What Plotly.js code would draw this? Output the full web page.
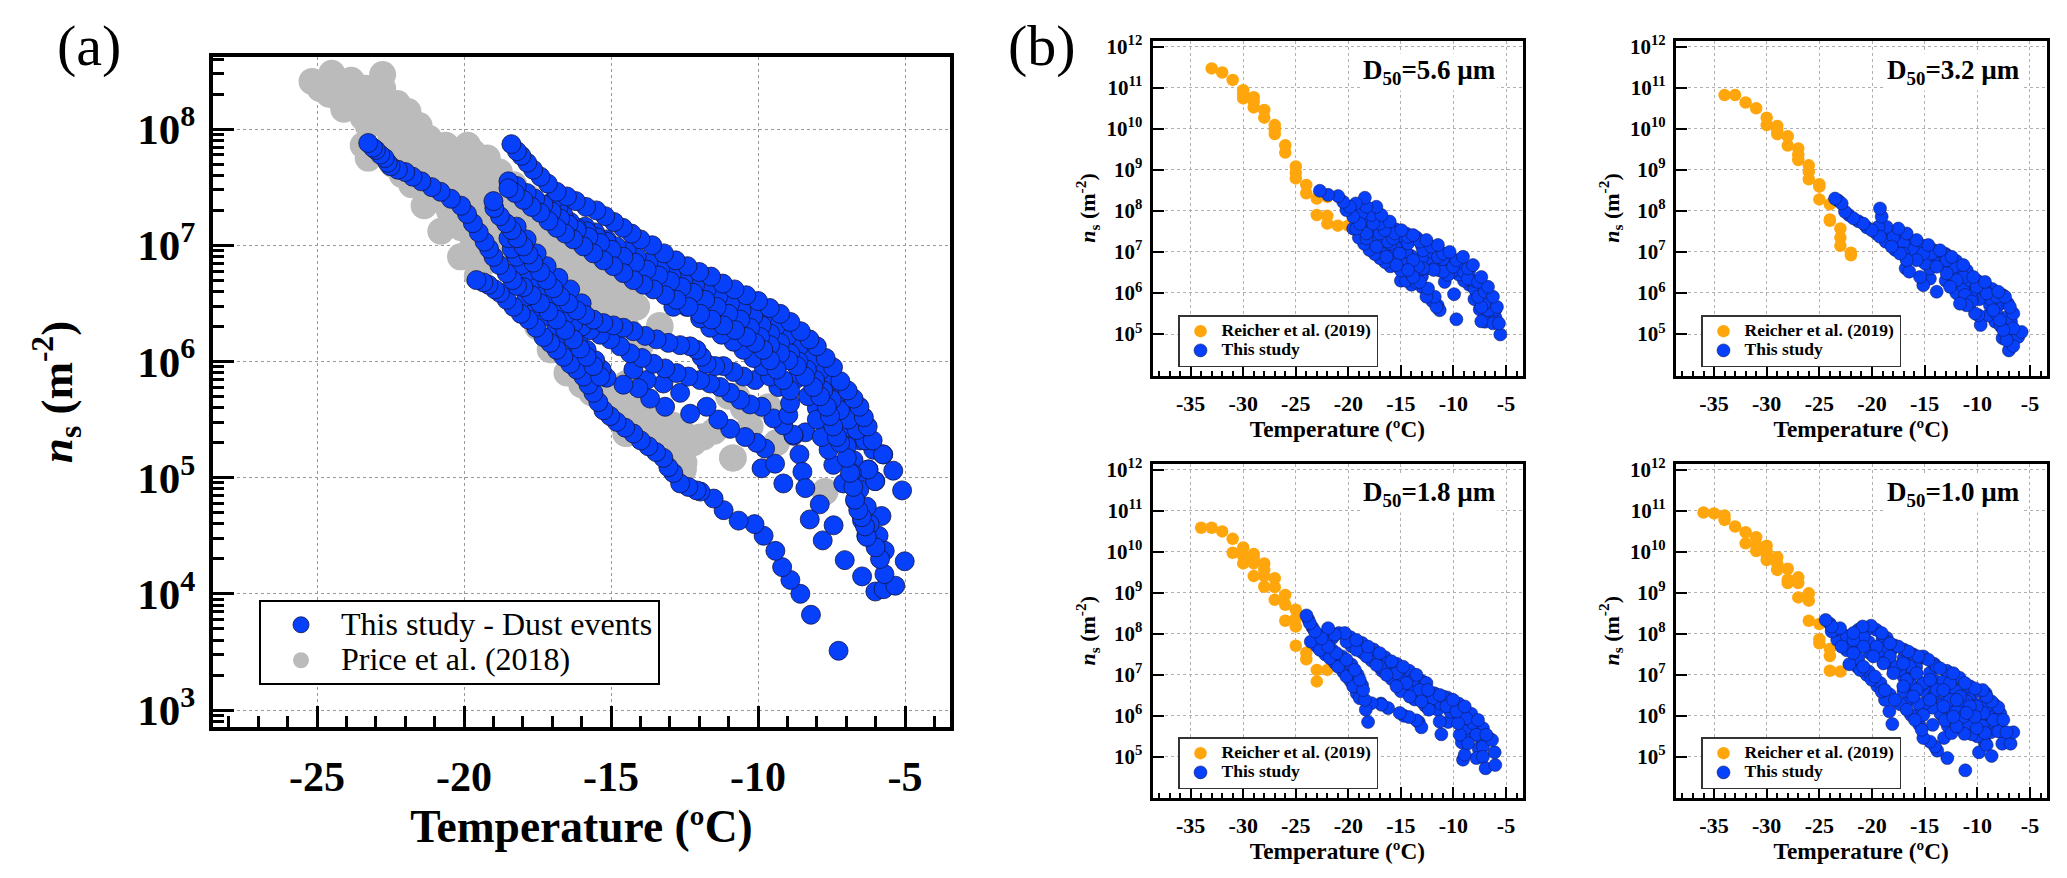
<!DOCTYPE html>
<html><head><meta charset="utf-8">
<script src="https://cdn.plot.ly/plotly-3.0.1.min.js"></script>
<style>html,body{margin:0;padding:0;background:#fff}</style>
</head><body><div id="chart" style="width:2067px;height:878px"></div>
<script>
// ---------- Panel (a) ----------
const aGreyT=[-25.17,-24.5,-23.84,-23.35,-22.77,-22.77,-22.27,-21.91,-21.53,-21.2,-20.62,-19.88,-19.21,-18.8,-18.31,-17.81,-17.15,-16.32,-15.33,-14.5,-14.17,-13.35,-24.59,-24.09,-23.43,-23.26,-23.43,-23.26,-22.6,-22.44,-22.11,-21.78,-21.36,-20.79,-20.12,-19.55,-22.6,-21.78,-20.95,-20.12,-19.3,-19.96,-19.3,-18.47,-17.64,-16.82,-15.99,-15.17,-16.98,-15.5,-14.5,-13.68,-12.52,-12.52,-11.86,-10.87,-17.07,-15.66,-14.47,-13.73,-12.54,-11.97,-12.54,-13.1,-13.79,-14.47,-10.84,-10.27,-9.65,-9.37,-7.72,-13.33,-14.13,-14.01,-10.73];
const aGreyLog=[8.41,8.48,8.42,8.35,8.47,8.35,8.22,8.15,8.03,7.92,7.86,7.86,7.75,7.63,7.52,7.41,7.23,7.05,6.79,6.58,6.47,6.31,8.3,8.17,8.1,8.03,7.86,7.75,7.81,7.7,7.61,7.52,7.34,7.12,6.9,6.74,8.03,7.88,7.66,7.48,7.59,7.74,7.3,7.08,7.23,6.94,6.76,6.58,6.11,5.73,5.38,5.38,5.13,5.35,5.35,5.17,6.1,5.73,5.38,5.41,5.07,5.35,5.38,5.44,5.64,5.81,5.17,5.44,5.61,5.3,4.88,6.3,6.47,6.13,5.7];
const aGreyBandT=[-24.9,-24.6,-24.2,-24.2,-23.9,-23.6,-23.6,-23.2,-22.9,-22.9,-22.5,-22.5,-22.1,-22.1,-21.7,-21.7,-21.3,-21.3,-20.9,-20.9,-20.5,-20.5,-20.5,-20.1,-20.1,-19.7,-19.7,-19.7,-19.7,-19.3,-19.3,-19.3,-18.9,-18.9,-18.9,-18.5,-18.5,-18.5,-18.1,-18.1,-17.7,-17.7,-17.3,-17.3,-16.9,-16.9,-16.5,-16.5,-16.1,-16.1,-15.7,-15.7,-15.3,-15.3,-14.9,-14.9,-14.5,-14.5,-17.5,-17,-16.5,-16,-15.5,-15,-14.5,-14,-13.5,-13,-12.5,-13.5,-12.9,-12.2,-11.5,-11,-10.5];
const aGreyBandLog=[8.35,8.38,8.4,8.25,8.3,8.3,8.18,8.27,8.25,8.1,8.15,7.95,8.05,7.9,7.98,7.75,7.85,7.6,7.8,7.45,7.75,7.55,7.3,7.72,7.15,7.8,7.55,7.3,7,7.45,7.1,6.85,7.6,7.3,7,7.45,7.2,6.9,7.35,7.05,7.3,7.05,7.2,6.95,7.1,6.85,7,6.75,6.9,6.65,6.82,6.6,6.7,6.5,6.6,6.4,6.5,6.3,6.3,6.1,5.9,5.8,5.8,5.7,5.6,5.5,5.4,5.3,5.25,5.55,5.45,5.3,5.4,5.7,5.6];
// blue curves, read as individual chains
const aCurve0T=[-23.26,-23.1,-23,-22.85,-22.7,-22.6,-22.5,-22.25,-22,-21.75,-21.45,-21.1,-20.8,-20.45,-20.1,-19.9,-19.7,-19.5,-19.3,-19.15,-19,-18.8,-18.55,-18.35,-18.2,-17.98,-17.7,-17.41,-17.13,-16.85,-16.56,-16.28,-16.05,-15.83,-15.6,-15.37];
const aCurve0Log=[7.88,7.84,7.82,7.78,7.75,7.71,7.68,7.65,7.63,7.59,7.55,7.5,7.46,7.4,7.34,7.27,7.19,7.11,7.03,6.97,6.9,6.83,6.76,6.7,6.65,6.64,6.57,6.5,6.43,6.36,6.27,6.19,6.11,6.04,5.96,5.87];
const aCurve1T=[-18.39,-18.2,-18.05,-17.85,-17.65,-17.4,-17.15,-16.85,-16.5,-16.2,-15.85,-15.5,-15.2,-14.9,-14.6,-14.3,-14,-13.6,-13.2,-12.8,-12.4,-12,-11.6,-11.2,-10.8,-10.4,-10,-9.6,-9.25,-8.9,-8.55,-8.25,-8,-7.7,-7.45,-7.2,-6.95,-6.75,-6.55,-6.4,-6.27,-6.1,-5.75,-5.4,-5.1];
const aCurve1Log=[7.87,7.81,7.77,7.71,7.65,7.59,7.53,7.46,7.42,7.38,7.33,7.3,7.25,7.2,7.15,7.1,7.05,7,6.93,6.87,6.82,6.77,6.73,6.67,6.62,6.57,6.52,6.46,6.41,6.34,6.26,6.19,6.13,6.03,5.95,5.83,5.75,5.68,5.61,5.52,5.44,5.32,5.2,5.06,4.89];
const aCurve2T=[-18.49,-18.27,-17.98,-17.7,-17.41,-17.13,-16.85,-16.56,-16.28,-15.94,-15.6,-15.26,-14.92,-14.58,-14.24,-13.9,-13.56,-13.16,-12.77,-12.37,-11.97,-11.58,-11.18,-10.78,-10.39,-10.1,-9.82,-9.59,-9.37,-9.14,-8.91,-8.91,-8.97];
const aCurve2Log=[7.49,7.45,7.39,7.33,7.28,7.21,7.15,7.1,7.05,6.99,6.93,6.87,6.82,6.76,6.7,6.66,6.62,6.57,6.53,6.47,6.41,6.36,6.31,6.27,6.21,6.16,6.1,6.01,5.93,5.84,5.75,5.64,5.54];
const aCurve3T=[-18.49,-18.21,-17.87,-17.58,-17.3,-17.02,-16.73,-16.45,-16.17,-15.77,-15.37,-14.98,-14.58,-14.18,-13.79,-13.39,-12.99,-12.6,-12.2,-11.8,-11.41,-11.01,-10.61,-10.27,-9.93,-9.59,-9.25,-8.97,-8.68,-8.4,-8.12,-7.89,-7.66,-7.55,-7.44,-7.32,-7.21,-6.98,-6.87,-6.76,-6.7,-6.59,-6.47,-6.36,-6.3];
const aCurve3Log=[7.55,7.51,7.45,7.4,7.35,7.29,7.23,7.18,7.13,7.07,7.02,6.96,6.9,6.85,6.79,6.74,6.69,6.64,6.59,6.53,6.47,6.41,6.36,6.29,6.21,6.14,6.07,6.01,5.96,5.87,5.78,5.7,5.61,5.53,5.44,5.35,5.3,5.17,5.04,4.92,4.81,4.72,4.66,4.58,4.49];
const aCurve4T=[-16.98,-16.79,-16.62,-16.39,-16.17,-15.83,-15.49,-15.15,-14.81,-14.47,-14.13,-13.73,-13.33,-12.94,-12.54,-12.14,-11.75,-11.35,-10.95,-10.56,-10.16,-9.88,-9.59,-9.25,-8.91,-8.63,-8.34,-8.06,-7.78,-7.49,-7.21,-6.93,-6.64,-6.36,-6.08,-5.74];
const aCurve4Log=[7.38,7.32,7.26,7.2,7.15,7.12,7.07,7.03,6.99,6.95,6.9,6.85,6.79,6.74,6.7,6.66,6.62,6.56,6.5,6.44,6.39,6.31,6.24,6.16,6.07,6,5.93,5.84,5.75,5.67,5.58,5.5,5.41,5.32,5.24,5.2];
const aCurve5T=[-15.88,-15.54,-15.15,-14.81,-14.47,-14.13,-13.67,-13.28,-12.88,-12.43,-11.97,-11.63,-11.24,-10.84,-10.5,-10.16,-9.82,-9.59,-9.31,-8,-7.55,-7.21,-6.98,-7.83,-7.6,-7.44,-7.1,-6.81,-6.25,-6.02,-6.53];
const aCurve5Log=[7.16,7.11,7.05,6.96,6.89,6.83,6.72,6.62,6.47,6.47,6.37,6.29,6.23,6.17,6.1,6.03,5.96,5.87,5.78,5.5,5.5,5.38,5.27,5.35,5.24,5.11,4.95,5.04,5.07,4.97,5.32];
const aCurve6T=[-19,-18.97,-18.78,-18.57,-18.38,-18.19,-17.98,-17.81,-17.64,-17.41,-17.19,-16.96,-16.73,-16.45,-16.17,-15.88,-15.6,-15.26,-14.92,-14.58,-14.24,-13.84,-13.45,-13.05,-12.65,-12.31,-12.09,-11.92,-11.75,-11.46,-11.18,-10.84,-10.5,-10.1];
const aCurve6Log=[7.38,7.32,7.25,7.19,7.13,7.06,6.99,6.92,6.85,6.77,6.7,6.63,6.56,6.5,6.44,6.4,6.36,6.33,6.31,6.29,6.26,6.22,6.19,6.16,6.14,6.13,6.1,6.04,5.98,5.96,5.96,5.91,5.87,5.84];
const aCurve7T=[-18.49,-18.38,-18.21,-18.04,-17.87,-17.64,-17.41,-17.13,-16.85,-16.56,-16.28,-16,-15.71,-15.37,-15.03,-14.69,-14.35,-13.95,-13.56,-13.16,-12.77,-12.37,-11.97,-11.63,-11.29,-10.95,-10.61,-10.27,-9.88,-9.48,-9.14,-8.8];
const aCurve7Log=[7.06,6.97,6.9,6.83,6.77,6.7,6.62,6.54,6.47,6.4,6.33,6.3,6.27,6.23,6.19,6.13,6.07,6.03,5.98,5.94,5.9,5.87,5.84,5.81,5.78,5.73,5.67,5.63,5.61,5.51,5.45,5.37];
const aCurve8T=[-19.58,-19.34,-19.17,-18.95,-18.78,-18.55,-18.32,-18.07,-17.81,-17.55,-17.3,-17.07,-16.85,-16.62,-16.39,-16.17,-15.94,-15.77,-15.6,-15.43,-15.26,-15.03,-14.81,-14.52,-14.24,-13.99,-13.73,-13.47,-13.22,-13.05,-12.88,-12.65,-12.37,-12.09,-11.96,-11.51,-11.17,-10.66,-10.12,-9.81,-9.41,-9.18,-8.9,-8.56,-8.2,-7.26];
const aCurve8Log=[6.7,6.68,6.66,6.62,6.59,6.53,6.47,6.41,6.36,6.29,6.21,6.16,6.1,6.04,5.98,5.93,5.87,5.8,5.73,5.65,5.58,5.53,5.48,5.43,5.38,5.32,5.27,5.22,5.17,5.09,5.04,4.95,4.92,4.89,4.88,4.82,4.72,4.63,4.6,4.5,4.37,4.23,4.12,4,3.82,3.51];
const aCurve9T=[-18.27,-17.64,-17.3,-16.96,-16.68,-16.39,-16.11,-15.83,-15.54,-15.32,-15.15,-14.58,-14.07,-13.67,-13.16,-14.24,-13.79,-13.22,-12.65,-12.31,-11.75,-11.35,-10.95,-10.44,-10.05,-9.76,-9.42,-9.88,-9.14];
const aCurve9Log=[6.93,6.62,6.53,6.44,6.36,6.27,6.19,6.1,6.01,5.93,5.86,5.8,5.77,5.68,5.61,5.93,5.84,5.81,5.73,5.55,5.61,5.5,5.42,5.35,5.3,5.25,5.12,5.08,4.95];
const aCurve10T=[-17.87,-17.53,-17.19,-16.85,-16.51,-16.17,-15.83,-15.49,-18.21,-17.87,-17.53,-17.19,-16.79,-16.39,-16];
const aCurve10Log=[6.56,6.47,6.39,6.3,6.21,6.13,5.98,5.9,7.16,7.05,6.93,6.82,6.72,6.62,6.5];
const aCurve11T=[-11,-10.6,-10.2,-9.8,-9.4,-9,-8.6,-8.2,-7.9,-7.6,-7.3,-7,-6.7,-6.5,-6.2,-8.7,-8.3,-8,-7.6,-7.3,-7,-6.75,-6.5,-6.55,-6.3,-6.2,-6,-5.85];
const aCurve11Log=[6.55,6.5,6.45,6.4,6.3,6.22,6.13,6.02,5.92,5.82,5.72,5.62,5.52,5.42,5.3,5.85,5.7,5.6,5.5,5.4,5.3,5.15,5.05,4.9,4.75,4.6,4.4,4.3];
const aEndT=[-5.8,-5.69,-5.9,-5.01,-5.7,-5.33,-5.73,-6.01,-6.46,-7.05,-6.32,-6.46,-6.69,-6.8,-6.24,-6.01,-7.43,-7.8,-8.24,-7.9,-8.39,-8.49,-8.59,-8.79,-8.39];
const aEndLog=[4.67,4.37,4.5,4.28,4.17,4.07,4.04,4.02,4.15,4.29,4.5,4.63,4.8,5.04,5.07,4.97,4.59,4.46,4.64,4.77,4.91,5.05,5.2,5.36,5.39];

// ---------- Panel (b), D50 = 5.6 ----------
const b56OrangeT=[-33,-32,-31,-30,-30,-30,-29,-29,-29,-28,-28,-27,-27,-27,-26,-26,-25,-25,-25,-24,-24,-23,-23,-22,-22,-22,-21,-20];
const b56OrangeLog=[11.47,11.37,11.19,10.94,10.84,10.74,10.77,10.66,10.52,10.46,10.27,10.09,9.99,9.87,9.6,9.42,9.08,8.93,8.79,8.63,8.43,8.3,7.9,8.34,7.88,7.69,7.64,7.64];
const b56BlueT=[-22.71,-21.92,-20.97,-20.49,-19.86,-19.29,-18.43,-18.28,-17.33,-16.85,-16.06,-14.95,-13.84,-12.57,-11.47,-10.36,-9.09,-8.14,-7.35,-6.71,-6.24,-5.86,-5.67,-5.54,-20.18,-19.54,-18.91,-18.75,-17.8,-17.64,-17.01,-16.53,-15.58,-14.32,-13.21,-12.1,-10.99,-9.72,-8.61,-7.66,-7.03,-19.23,-18.28,-17.01,-15.74,-14.32,-12.89,-11.47,-10.04,-8.61,-7.66,-7.35,-7.03,-7.35,-6.24,-6.71,-19.54,-18.28,-17.33,-16.37,-15.42,-14.32,-13.84,-13.21,-12.42,-12.57,-11.78,-11.62,-11.31,-15.11,-13.84,-13.37,-12.89,-11.88,-10.99,-10.52,-10.83,-9.94,-9.72,-16.22];
const b56BlueLog=[8.49,8.39,8.36,8.22,8.1,8.18,8.32,8.1,8.1,7.9,7.74,7.53,7.41,7.29,7.17,7,6.88,6.68,6.39,6.15,5.91,5.66,5.26,4.99,8.02,7.86,7.69,7.94,7.9,7.69,7.69,7.53,7.45,7.37,7.25,7.13,6.96,6.8,6.6,6.27,6.03,7.57,7.45,7.45,7.33,7.21,7.04,6.88,6.64,6.35,5.91,5.66,5.74,5.31,5.26,5.58,7.57,7.33,7.13,6.88,6.68,6.56,6.39,6.27,6.11,5.91,5.91,5.66,5.58,6.96,6.8,6.64,6.6,6.56,6.52,6.44,6.27,5.97,5.36,7.25];
const b56BandT=[-19.5,-19,-18.5,-18,-17.5,-17,-16.5,-16,-15.5,-15,-14.5,-14,-13.5,-13,-12.5,-12,-11.5,-11,-10.5,-10,-9.5,-9,-8.5,-8,-7.5,-7,-6.5,-6.5,-6,-6,-7.5,-7.5,-8,-19,-18.5,-18,-17.5,-17,-16.5,-16,-15.5,-15,-14.5,-14,-13.5,-13.5,-13,-12.5,-12,-11.5,-16,-17.5,-16.5,-15.5,-15,-14.5,-14,-13,-12.5,-12,-11.5,-11];
const b56BandLog=[7.95,7.85,7.8,7.75,7.8,7.6,7.7,7.55,7.55,7.4,7.45,7.3,7.35,7.15,7.2,7,7.05,6.82,6.9,6.75,6.75,6.5,6.55,6.3,6.3,6,5.9,5.7,5.6,5.4,5.9,5.6,6.1,7.35,7.2,7.05,6.95,6.85,6.75,6.65,6.85,6.55,6.7,6.45,6.5,6.25,6.15,6,5.8,5.7,7.2,7.4,7.35,7.1,7.2,7,6.9,6.85,6.85,6.75,6.65,6.65];
const b56FillT=[-12.5,-11.9,-11.3,-10.7,-10.2,-9.5,-9,-8.5,-8,-7,-6.6,-6.2,-13.5,-14.5,-15,-14,-13,-16.7,-16,-15.3,-18,-17,-19];
const b56FillLog=[6.6,6.7,6.55,6.7,6.5,6.45,6.3,6.2,5.85,5.3,5.4,5.6,6.7,6.3,6.3,6.2,6.4,6.95,6.9,6.65,7.5,7.05,7.65];

// ---------- Panel (b), D50 = 3.2 ----------
const b32OrangeT=[-34,-33,-32,-31,-30,-30,-29,-29,-29,-28,-28,-27,-27,-27,-26,-26,-26,-25,-25,-25,-24,-24,-24,-23,-23,-23,-22,-22];
const b32OrangeLog=[10.82,10.82,10.64,10.5,10.27,10.09,10.07,9.97,9.87,9.82,9.59,9.52,9.36,9.24,9.11,8.95,8.77,8.65,8.59,8.28,8.16,7.79,7.76,7.57,7.35,7.15,6.98,6.92];
const b32BlueT=[-23.51,-22.88,-22.56,-21.77,-20.82,-20.03,-19.24,-18.13,-17.34,-16.71,-16.46,-19.24,-19.08,-19.4,-18.61,-17.5,-16.71,-15.76,-14.65,-13.54,-12.44,-11.33,-10.38,-9.27,-8.01,-7.37,-6.9,-6.58,-17.03,-15.76,-15.44,-15.13,-13.86,-12.59,-11.65,-11.01,-10.54,-10.22,-9.91,-9.68,-15.13,-13.86,-12.91,-11.96,-11.17,-12.91,-11.33,-10.06,-9.11,-8.48,-7.85,-7.53,-7.22,-6.58,-6.58,-5.79,-6.11,-8.16,-8.64,-14.34,-13.23,-17.97,-17.03,-16.08,-14.97,-13.86,-12.28,-10.7,-9.27,-12.28,-11.33];
const b32BlueLog=[8.3,8.18,7.98,7.82,7.69,7.53,7.37,7.13,6.96,6.8,6.52,8.06,7.86,7.61,7.61,7.57,7.45,7.29,7.17,7.04,6.88,6.68,6.39,6.27,6.03,5.91,5.66,5.5,6.96,6.8,6.39,6.19,6.03,6.15,5.74,5.7,5.79,5.5,5.46,5.22,6.96,6.64,6.48,6.31,5.95,6.8,6.39,6.15,5.99,5.58,5.34,5.1,4.85,4.71,5.14,5.05,4.93,5.91,5.83,6.96,6.96,7.37,7.21,7.04,6.72,6.92,6.64,6.31,6.07,6.39,6.15];
const b32BandT=[-23.2,-22.2,-21.3,-20.5,-19.6,-18.7,-17.8,-19,-18.3,-17.2,-16.2,-15.2,-14.2,-13,-12,-11,-10,-9.7,-8.6,-7.6,-7.1,-18,-17,-16,-15.5,-14.5,-14,-13.3,-12.8,-12,-11.5,-11,-10.5,-10.5,-9.8,-8.8,-8.2,-7.8,-7.3,-7,-6.8,-9.5,-16.5,-16.8,-13,-12,-11.7,-9,-14.5];
const b32BandLog=[8.25,7.9,7.75,7.6,7.45,7.25,7.05,7.5,7.5,7.35,7.2,7.15,7.05,6.95,6.78,6.55,6.3,6.2,6.1,5.95,5.75,7.3,7.2,7,6.9,6.6,6.8,6.7,6.6,6.55,6.45,6.25,6.05,5.85,5.85,5.7,5.5,5.2,5,4.6,5.3,6,6.85,6.6,6.3,6,5.95,5.9,6.35];
const b32FillT=[-11,-9,-8.3,-7.6,-7.3,-8];
const b32FillLog=[5.85,5.45,5.3,4.9,5.4,5.7];

// ---------- Panel (b), D50 = 1.8 ----------
const b18OrangeT=[-34,-33,-32,-31,-31,-30,-30,-30,-29,-29,-29,-29,-28,-28,-28,-28,-27,-27,-27,-26,-26,-26,-25,-25,-25,-25,-24,-24,-23,-23,-22];
const b18OrangeLog=[10.59,10.59,10.5,10.32,9.98,10.11,9.9,9.72,9.95,9.85,9.72,9.41,9.72,9.56,9.41,9.15,9.36,9.14,8.83,8.95,8.71,8.32,8.59,8.38,8.18,7.71,7.54,7.38,7.12,6.84,7.12];
const b18BlueT=[-23.98,-23.66,-23.18,-22.55,-21.92,-21.13,-20.18,-19.38,-18.91,-18.59,-18.43,-18.34,-18.12,-23.57,-22.71,-21.76,-20.97,-20.18,-19.54,-18.91,-21.92,-21.28,-20.33,-19.23,-18.12,-17.01,-15.9,-14.79,-13.52,-12.42,-11.31,-10.04,-8.93,-7.66,-6.87,-6.33,-6.08,-6.02,-6.94,-7.19,-7.19,-20.18,-19.23,-18.28,-17.33,-16.37,-15.42,-14.16,-13.05,-12.35,-11.31,-11.15,-9.72,-9.56,-9.41,-8.61,-8.93,-9.09,-7.82,-7.82,-8.77,-17.8,-16.85,-16.22,-15.11,-14.22,-13.52,-13.05,-17.01,-15.42,-14.47,-13.21,-11.94,-10.67,-9.41,-8.14,-13.84,-16.37,-15.11,-12.57,-10.99];
const b18BlueLog=[8.45,8.26,8.06,7.89,7.69,7.53,7.37,7.12,6.88,6.63,6.39,6.15,5.85,7.81,7.61,7.41,7.2,6.96,6.72,6.43,8.14,7.98,8.02,7.85,7.69,7.53,7.33,7.2,7,6.63,6.51,6.39,6.23,5.9,5.54,5.41,5.11,4.8,4.72,5,5.25,7.81,7.61,7.45,7.24,7,6.72,6.47,6.35,6.15,5.86,5.55,6.11,5.82,5.54,5.33,5.05,4.93,4.97,5.54,5.94,6.31,6.27,6.19,6.07,5.97,5.89,5.72,7.2,7.04,6.8,6.63,6.43,6.23,6.07,5.82,6.88,7.28,7.12,6.8,6.47];
const b18BandT=[-23.8,-23.4,-22.8,-22.2,-21.5,-20.6,-19.7,-19.1,-18.7,-23,-22.2,-21.3,-20.5,-19.8,-19.2,-21.5,-20.9,-19.8,-18.7,-17.6,-16.5,-15.4,-14.2,-13,-12.9,-11.8,-10.6,-9.5,-8.3,-7.2,-6.6,-19.7,-18.7,-17.8,-16.8,-15.9,-15,-13.7,-12.7,-16.5,-15.7,-15,-14,-13.2,-12.5,-11.2,-10.3,-9.2,-8.4,-8.8,-9.2,-7.6,-7.4,-16.9,-14.7,-13.3];
const b18BandLog=[8.35,8.15,7.97,7.8,7.6,7.45,7.25,7,6.75,7.7,7.5,7.3,7.08,6.85,6.55,7.9,8.02,7.92,7.78,7.62,7.43,7.27,7.1,6.85,6.7,6.55,6.45,6.3,6.05,5.7,5.45,7.7,7.55,7.35,7.1,6.9,6.6,6.4,6.25,7.25,7.1,6.9,6.7,6.85,6.6,6.3,6.1,6.2,5.9,5.7,5.35,5.2,5.45,6.3,6,5.85];
const b18FillT=[-11.5,-10.5,-9,-7.8,-10,-8.3,-7.4,-12];
const b18FillLog=[6.15,5.85,5.7,5.85,5.95,5.55,5,6.2];

// ---------- Panel (b), D50 = 1.0 ----------
const b10OrangeT=[-36,-35,-34,-34,-33,-32,-32,-31,-31,-31,-30,-30,-30,-30,-29,-29,-29,-28,-28,-28,-27,-27,-27,-26,-26,-26,-25,-25,-25,-24,-24,-24,-23];
const b10OrangeLog=[10.96,10.94,10.89,10.78,10.62,10.48,10.21,10.36,10.17,10.02,10.15,10.01,9.93,9.8,9.87,9.71,9.56,9.59,9.32,9.24,9.38,9.24,8.89,8.99,8.81,8.32,8.24,7.87,7.77,7.63,7.46,7.1,7.08];
const b10BlueT=[-24.4,-23.83,-23.04,-21.77,-20.89,-20.09,-19.08,-18.29,-17.5,-16.55,-15.6,-14.65,-13.54,-12.28,-11.17,-10.22,-9.49,-9.11,-8.64,-8.01,-7.53,-7.22,-6.58,-6.84,-7.63,-8.64,-23.83,-22.88,-21.77,-20.82,-19.72,-18.77,-17.82,-16.71,-15.92,-15.28,-15.13,-14.49,-14.02,-13.8,-12.85,-11.14,-22.15,-21.14,-20.03,-19.08,-18.77,-18.35,-18.07,-21.77,-20.82,-19.87,-18.92,-17.97,-17.03,-16.08,-15.13,-20.82,-19.56,-18.29,-17.03,-15.76,-14.49,-13.23,-11.96,-11.01,-10.22,-10.06,-9.27,-9.11,-9.84,-18.61,-17.66,-16.71,-15.76,-14.49,-13.23,-12.28,-11.96,-12.44,-13.16,-11.23,-14.24,-13.1,-15.13,-13.86,-12.59,-11.65,-10.7,-10.06,-9.43,-8.48,-8.01,-9.11,-11.33,-10.85,-20.19,-18.92,-17.34,-16.39,-15.13,-13.86,-12.59,-10.7,-9.43,-16.39];
const b10BlueLog=[8.34,8.18,8.14,8.02,8.18,8.2,8.02,7.77,7.69,7.57,7.45,7.37,7.16,7.04,6.8,6.67,6.63,6.47,6.35,6.21,5.9,5.6,5.6,5.32,5.32,5.02,8.06,7.69,7.53,7.2,6.96,6.63,6.39,6.15,5.9,5.66,5.46,5.37,5.25,5.15,4.97,4.67,7.26,7.12,6.88,6.59,6.39,6.11,5.8,7.85,7.69,7.45,7.28,7.04,6.72,6.47,6.02,7.93,7.69,7.45,7.28,7.04,6.88,6.63,6.39,6.07,5.98,5.7,5.58,5.29,5.11,7.69,7.2,6.88,6.63,6.39,6.23,5.98,5.74,5.58,5.46,5.56,5.78,5.89,7.45,7.2,6.8,6.47,6.23,6.23,6.07,5.9,5.62,6.23,5.98,5.82,7.53,7.77,7.12,7.2,6.8,6.63,6.39,5.9,6.31,6.8];
const b10BandT=[-24,-23.4,-22.4,-21.3,-20.5,-19.6,-19,-18.6,-17.9,-17,-16.1,-15.1,-14.1,-12.9,-11.7,-10.7,-9.8,-9.2,-8.4,-7.8,-23.3,-22.4,-21.3,-20.3,-19.2,-18.3,-17.3,-16.3,-15.5,-21.4,-20.5,-19.5,-20.3,-19.4,-18.4,-17.5,-16.5,-15.6,-19,-18,-17,-16,-15,-14.3,-13.5,-12.8,-18.2,-17,-15.8,-14.5,-13.2,-12,-11,-10.3,-9.5,-16.4,-15.3,-14,-12.8,-12,-11.3,-10.5,-9.7,-8.8,-8.3];
const b10BandLog=[8.25,8.1,7.95,8.1,8.1,8.1,7.9,7.9,7.72,7.62,7.5,7.42,7.27,7.1,6.93,6.72,6.6,6.55,6.28,6.05,7.85,7.6,7.4,7.08,6.8,6.52,6.28,6.02,5.78,7.2,7,6.73,7.8,7.57,7.35,7.15,6.85,6.3,7.45,7.2,6.95,6.65,6.3,6.2,6.05,5.75,7.6,7.4,7.2,7.05,6.85,6.6,6.35,6.1,5.75,7,6.75,6.55,6.4,6.1,5.75,5.55,5.85,5.85,5.7];
const b10FillT=[-14,-13,-12.4,-11.5,-10.8,-10.5,-9.8,-9,-8.5,-8.7,-10,-11,-11.6,-12.5,-13.3,-14.2,-15,-16,-17,-16.5,-15.8,-21.6,-22.5,-14.7,-9.3,-10.5,-8,-7.6];
const b10FillLog=[6.85,6.6,6.75,6.5,6.45,6.35,6.2,6.1,5.95,5.6,5.5,5.9,6.2,6.15,6.3,6.45,6.6,7.05,6.6,6.4,6,7.7,7.8,6.75,5.35,5.95,5.8,5.6];

const xTickValsA=[-25,-20,-15,-10,-5];
const xTickValsB=[-35,-30,-25,-20,-15,-10,-5];
const yTickValsA=[3,4,5,6,7,8];
const yTickValsB=[5,6,7,8,9,10,11,12];
const panelLabels=['D<sub>50</sub>=5.6 µm','D<sub>50</sub>=3.2 µm','D<sub>50</sub>=1.8 µm','D<sub>50</sub>=1.0 µm'];

// ---------- styles ----------
const W=2067,H=878,SERIF='"Liberation Serif","Times New Roman",serif';
const BLUE='#0640fb',ORANGE='#ffa60d',GREY='#bbbbbb',EDGE='#141440';
const dx=(a,b)=>[a/W,b/W], dy=(top,bot)=>[1-bot/H,1-top/H];
const pow=a=>a.map(v=>Math.pow(10,v));
const bold=(size)=>({family:SERIF,size:size,color:'#000',weight:700});
const supLabel=v=>'10<sup>'+v+'</sup>';
const sized=(text,px)=>'<span style="font-size:'+px+'px">'+text+'</span>';

function xAxis(anchor,domain,range,vals,o){return {
  anchor,domain,range,type:'linear',tickmode:'array',tickvals:vals,ticktext:vals.map(String),
  ticks:'inside',ticklen:o.maj,tickwidth:o.tw,tickcolor:'#000',
  minor:{ticks:'inside',ticklen:o.min,tickwidth:o.tw,tickcolor:'#000',dtick:1,tick0:0,showgrid:false},
  showline:true,mirror:true,linecolor:'#000',linewidth:o.lw,
  showgrid:true,gridcolor:o.grid,griddash:'dot',gridwidth:1,zeroline:false,
  tickfont:bold(o.tf),ticklabelstandoff:o.xso,
  title:{text:'Temperature (ºC)',font:bold(o.xtf),standoff:o.xts}};}
function yAxis(anchor,domain,range,vals,o){const ax={
  anchor,domain,range,type:'log',tickmode:'array',tickvals:pow(vals),ticktext:vals.map(supLabel),
  ticks:'inside',ticklen:o.maj,tickwidth:o.tw,tickcolor:'#000',
  showline:true,mirror:true,linecolor:'#000',linewidth:o.lw,
  showgrid:true,gridcolor:o.grid,griddash:'dot',gridwidth:1,zeroline:false,
  tickfont:bold(o.yf),ticklabelstandoff:o.yso,
  title:{text:'<i>n</i><sub>s</sub> (m<sup>-2</sup>)',font:bold(o.ytf),standoff:o.yts}};
  if(o.yminor) ax.minor={ticks:'inside',ticklen:o.min,tickwidth:o.tw,tickcolor:'#000',dtick:'D1',showgrid:false};
  return ax;}

const optA={maj:21,min:11,tw:3,lw:4,grid:'#999999',tf:42,yf:43,xtf:45.5,ytf:45,xso:10,yso:5,xts:12,yts:52,yminor:true};
const optB={maj:11,min:5,tw:2,lw:3,grid:'#b0b0b0',tf:22,yf:21,xtf:23.3,ytf:22,xso:6,yso:3,xts:4,yts:5,yminor:false};

const rangeBX=[-38.63,-3.43];
const layout={width:W,height:H,margin:{l:0,r:0,t:0,b:0},paper_bgcolor:'#fff',plot_bgcolor:'#fff',autosize:false,showlegend:true,
  xaxis:xAxis('y',dx(213,950),[-28.54,-3.47],xTickValsA,optA),
  yaxis:yAxis('x',dy(57,727),[2.854,8.62],yTickValsA,optA),
  xaxis2:xAxis('y2',dx(1152.5,1522.5),rangeBX,xTickValsB,optB),
  yaxis2:yAxis('x2',dy(40.5,375.5),[3.99,12.15],yTickValsB,optB),
  xaxis3:xAxis('y3',dx(1675.8,2046.5),rangeBX,xTickValsB,optB),
  yaxis3:yAxis('x3',dy(40.5,375.5),[3.99,12.15],yTickValsB,optB),
  xaxis4:xAxis('y4',dx(1152.5,1522.5),rangeBX,xTickValsB,optB),
  yaxis4:yAxis('x4',dy(463.8,797.8),[4,12.15],yTickValsB,optB),
  xaxis5:xAxis('y5',dx(1675.8,2046.5),rangeBX,xTickValsB,optB),
  yaxis5:yAxis('x5',dy(463.8,797.8),[4,12.15],yTickValsB,optB),
  legend:{x:259/W,y:1-600/H,xanchor:'left',yanchor:'top',traceorder:'reversed',bgcolor:'#fff',bordercolor:'#000',borderwidth:2,
    font:{family:SERIF,size:25,color:'#000'},itemwidth:70,entrywidth:387,entrywidthmode:'pixels'},
  annotations:[
    {text:'(a)',xref:'paper',yref:'paper',x:89/W,y:1-45/H,xanchor:'center',yanchor:'middle',showarrow:false,font:{family:SERIF,size:58,color:'#000'}},
    {text:'(b)',xref:'paper',yref:'paper',x:1042/W,y:1-45/H,xanchor:'center',yanchor:'middle',showarrow:false,font:{family:SERIF,size:58,color:'#000'}}
  ]};
const legendBoxes=[[1178,315],[1701,315],[1178,737],[1701,737]];
legendBoxes.forEach((p,i)=>{
  layout['legend'+(i+2)]={x:p[0]/W,y:1-p[1]/H,xanchor:'left',yanchor:'top',bgcolor:'#fff',bordercolor:'#333',borderwidth:1.5,
    font:bold(12.5),itemwidth:32,entrywidth:124,entrywidthmode:'pixels'};
});
[[1429,72],[1953,72],[1429,494],[1953,494]].forEach((p,i)=>{
  layout.annotations.push({text:panelLabels[i],xref:'paper',yref:'paper',x:p[0]/W,y:1-p[1]/H,xanchor:'center',yanchor:'middle',showarrow:false,
    bgcolor:'#fff',font:bold(27)});
});

// ---------- traces ----------
const concat=l=>[].concat(...l);
const aBlueT=concat([aCurve0T,aCurve1T,aCurve2T,aCurve3T,aCurve4T,aCurve5T,aCurve6T,aCurve7T,aCurve8T,aCurve9T,aCurve10T,aCurve11T,aEndT]).reverse();
const aBlueLog=concat([aCurve0Log,aCurve1Log,aCurve2Log,aCurve3Log,aCurve4Log,aCurve5Log,aCurve6Log,aCurve7Log,aCurve8Log,aCurve9Log,aCurve10Log,aCurve11Log,aEndLog]).reverse();
const data=[
 {type:'scatter',mode:'markers',name:sized('Price et al. (2018)',32),x:aGreyT.concat(aGreyBandT),y:pow(aGreyLog.concat(aGreyBandLog)),xaxis:'x',yaxis:'y',legend:'legend',
  marker:{size:27,color:GREY,line:{width:0}}},
 {type:'scatter',mode:'markers',name:sized('This study - Dust events',32),x:aBlueT,y:pow(aBlueLog),xaxis:'x',yaxis:'y',legend:'legend',
  marker:{size:19,color:BLUE,line:{width:0.8,color:EDGE}}}
];
[[b56OrangeT,b56OrangeLog,concat([b56BlueT,b56BandT,b56FillT]),concat([b56BlueLog,b56BandLog,b56FillLog])],
 [b32OrangeT,b32OrangeLog,concat([b32BlueT,b32BandT,b32FillT]),concat([b32BlueLog,b32BandLog,b32FillLog])],
 [b18OrangeT,b18OrangeLog,concat([b18BlueT,b18BandT,b18FillT]),concat([b18BlueLog,b18BandLog,b18FillLog])],
 [b10OrangeT,b10OrangeLog,concat([b10BlueT,b10BandT,b10FillT]),concat([b10BlueLog,b10BandLog,b10FillLog])]].forEach((s,i)=>{
  const n=i+2;
  data.push({type:'scatter',mode:'markers',name:sized('Reicher et al. (2019)',17.5),x:s[0],y:pow(s[1]),xaxis:'x'+n,yaxis:'y'+n,legend:'legend'+n,
    marker:{size:12.5,color:ORANGE,line:{width:0}}});
  data.push({type:'scatter',mode:'markers',name:sized('This study',17.5),x:s[2].slice().reverse(),y:pow(s[3]).reverse(),xaxis:'x'+n,yaxis:'y'+n,legend:'legend'+n,
    marker:{size:13,color:BLUE,line:{width:0.5,color:EDGE}}});
});
Plotly.newPlot('chart',data,layout,{staticPlot:true,displayModeBar:false});
</script></body></html>
